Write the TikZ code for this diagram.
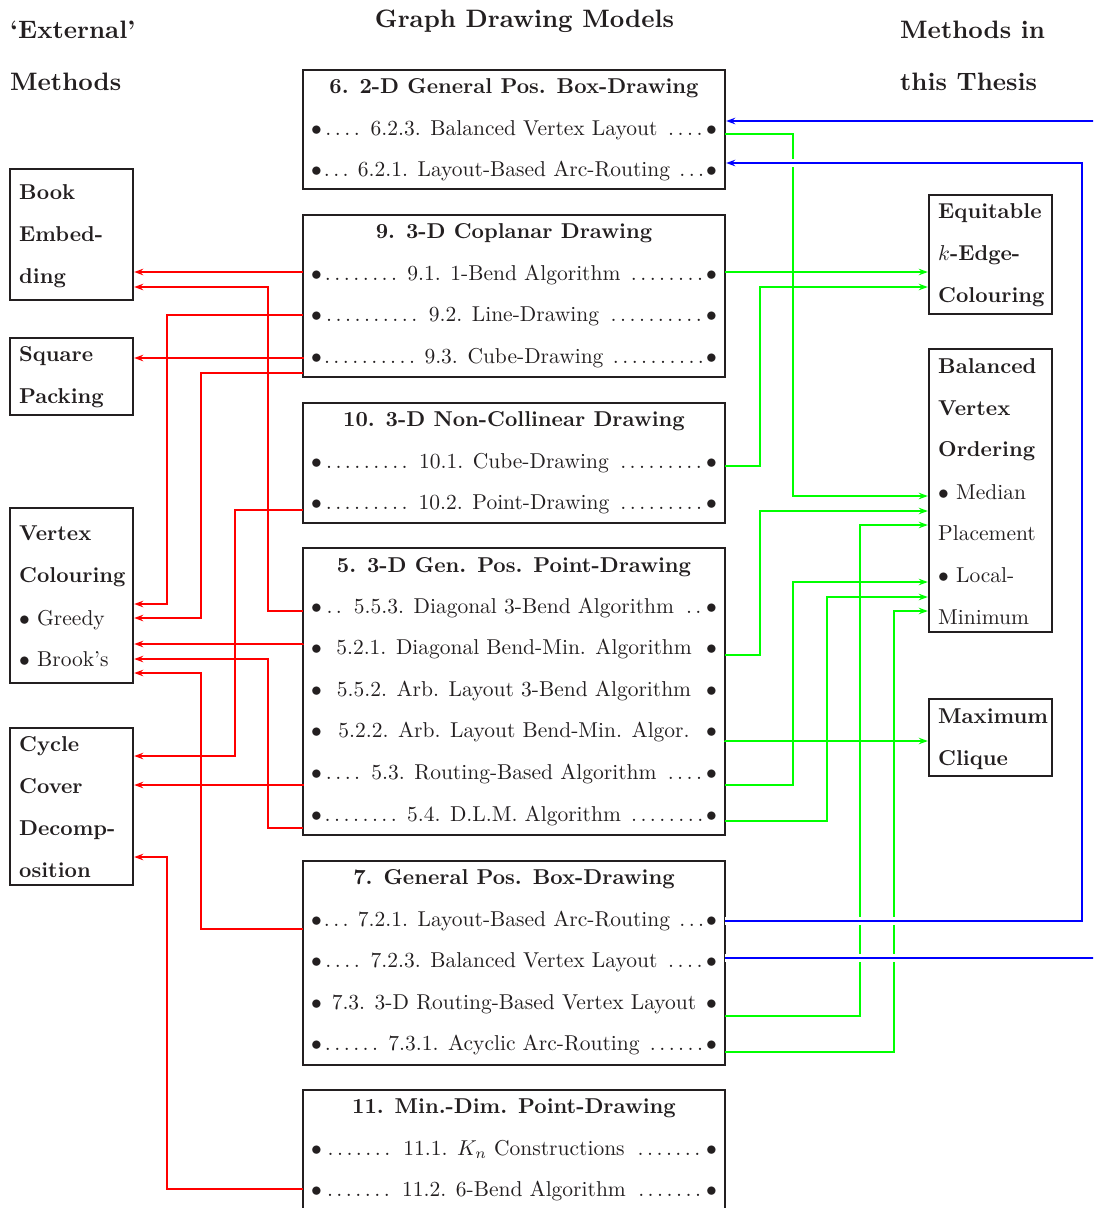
\documentclass[tikz,border=0pt]{standalone}
\usepackage{graphicx}
\usetikzlibrary{arrows.meta,calc}
\definecolor{ink}{RGB}{35,31,32}
\definecolor{cred}{RGB}{255,0,0}
\definecolor{cgreen}{RGB}{0,255,0}
\definecolor{cblue}{RGB}{0,0,255}
\newcommand{\sbx}[1]{\scalebox{2.15}{#1}}
\newcommand{\hbx}[1]{\scalebox{2.52}{#1}}
\newcommand{\rowtext}[1]{\sbx{\makebox[188.8pt]{$\bullet$\dotfill\ #1\ \dotfill$\bullet$}}}
\begin{document}
\begin{tikzpicture}[x=1pt,y=-1pt,
  every node/.style={text=ink},
  hdr/.style={anchor=base west, inner sep=0, font=\fontsize{10}{12}\selectfont\bfseries},
  ttl/.style={anchor=base, inner sep=0, font=\fontsize{10}{12}\selectfont\bfseries},
  btxt/.style={anchor=base west, inner sep=0, font=\fontsize{10}{12}\selectfont\bfseries},
  ntxt/.style={anchor=base west, inner sep=0, font=\fontsize{10}{12}\selectfont},
  rowt/.style={anchor=base, inner sep=0, font=\fontsize{10}{12}\selectfont},
  box/.style={draw=ink, line width=2.4pt, anchor=north west, inner sep=0, outer sep=0},
  conn/.style={line width=1.8pt, shorten >=1.2pt, -{Stealth[length=9pt,width=6.5pt,inset=3pt]}},
  rc/.style={conn, draw=cred},
  gc/.style={conn, draw=cgreen},
  bc/.style={conn, draw=cblue, preaction={draw=white, line width=8pt, -}}
]
\useasboundingbox (0,0) rectangle (1093,1208);
\clip (0,0) rectangle (1093,1208);

% headers
\node[hdr] (hext) at (10,38) {\hbx{‘External’}};
\node[hdr] (hmeth) at (10,90.7) {\hbx{Methods}};
\node[hdr, anchor=base] (hgdm) at (524.5,27) {\hbx{Graph Drawing Models}};
\node[hdr] (hmin) at (900,38) {\hbx{Methods in}};
\node[hdr] (hthis) at (900,90.7) {\hbx{this Thesis}};

% middle boxes
\node[box, minimum width=422pt, minimum height=119pt] (b6) at (303,70) {};
\node[ttl] (t6) at (514,93) {\sbx{6. 2-D General Pos. Box-Drawing}};
\node[rowt] (r623) at (514,135) {\rowtext{6.2.3. Balanced Vertex Layout}};
\node[rowt] (r621) at (514,176.6) {\rowtext{6.2.1. Layout-Based Arc-Routing}};

\node[box, minimum width=422pt, minimum height=162pt] (b9) at (303,215) {};
\node[ttl] (t9) at (514,238) {\sbx{9. 3-D Coplanar Drawing}};
\node[rowt] (r91) at (514,280) {\rowtext{9.1. 1-Bend Algorithm}};
\node[rowt] (r92) at (514,321.6) {\rowtext{9.2. Line-Drawing}};
\node[rowt] (r93) at (514,363.2) {\rowtext{9.3. Cube-Drawing}};

\node[box, minimum width=422pt, minimum height=120pt] (b10) at (303,403) {};
\node[ttl] (t10) at (514,426) {\sbx{10. 3-D Non-Collinear Drawing}};
\node[rowt] (r101) at (514,468) {\rowtext{10.1. Cube-Drawing}};
\node[rowt] (r102) at (514,509.6) {\rowtext{10.2. Point-Drawing}};

\node[box, minimum width=422pt, minimum height=287pt] (b5) at (303,548) {};
\node[ttl] (t5) at (514,572) {\sbx{5. 3-D Gen. Pos. Point-Drawing}};
\node[rowt] (r553) at (514,613) {\rowtext{5.5.3. Diagonal 3-Bend Algorithm}};
\node[rowt] (r521) at (514,654.6) {\rowtext{5.2.1. Diagonal Bend-Min. Algorithm}};
\node[rowt] (r552) at (514,696.2) {\rowtext{5.5.2. Arb. Layout 3-Bend Algorithm}};
\node[rowt] (r522) at (514,737.8) {\rowtext{5.2.2. Arb. Layout Bend-Min. Algor.}};
\node[rowt] (r53) at (514,779.4) {\rowtext{5.3. Routing-Based Algorithm}};
\node[rowt] (r54) at (514,821) {\rowtext{5.4. D.L.M. Algorithm}};

\node[box, minimum width=422pt, minimum height=204pt] (b7) at (303,861) {};
\node[ttl] (t7) at (514,884) {\sbx{7. General Pos. Box-Drawing}};
\node[rowt] (r721) at (514,926) {\rowtext{7.2.1. Layout-Based Arc-Routing}};
\node[rowt] (r723) at (514,967.6) {\rowtext{7.2.3. Balanced Vertex Layout}};
\node[rowt] (r73) at (514,1009.2) {\rowtext{7.3. 3-D Routing-Based Vertex Layout}};
\node[rowt] (r731) at (514,1050.8) {\rowtext{7.3.1. Acyclic Arc-Routing}};

\node[box, minimum width=422pt, minimum height=140pt] (b11) at (303,1090) {};
\node[ttl] (t11) at (514,1113) {\sbx{11. Min.-Dim. Point-Drawing}};
\node[rowt] (r111) at (514,1155) {\rowtext{11.1. $K_n$ Constructions}};
\node[rowt] (r112) at (514,1196.6) {\rowtext{11.2. 6-Bend Algorithm}};

% left boxes
\node[box, minimum width=123pt, minimum height=131pt] (book) at (10,169) {};
\node[btxt] (book1) at (19,199) {\sbx{Book}};
\node[btxt] (book2) at (19,241) {\sbx{Embed-}};
\node[btxt] (book3) at (19,283) {\sbx{ding}};

\node[box, minimum width=123pt, minimum height=77pt] (sq) at (10,338) {};
\node[btxt] (sq1) at (19,361.7) {\sbx{Square}};
\node[btxt] (sq2) at (19,403) {\sbx{Packing}};

\node[box, minimum width=123pt, minimum height=175pt] (vc) at (10,508) {};
\node[btxt] (vc1) at (19,540.7) {\sbx{Vertex}};
\node[btxt] (vc2) at (19,582.7) {\sbx{Colouring}};
\node[ntxt] (vc3) at (19,625) {\sbx{$\bullet$ Greedy}};
\node[ntxt] (vc4) at (19,666.7) {\sbx{$\bullet$ Brook’s}};

\node[box, minimum width=123pt, minimum height=157pt] (cc) at (10,728) {};
\node[btxt] (cc1) at (19,751.7) {\sbx{Cycle}};
\node[btxt] (cc2) at (19,793.3) {\sbx{Cover}};
\node[btxt] (cc3) at (19,835) {\sbx{Decomp-}};
\node[btxt] (cc4) at (19,877.3) {\sbx{osition}};

% right boxes
\node[box, minimum width=123pt, minimum height=119pt] (eq) at (929,195) {};
\node[btxt] (eq1) at (938,218) {\sbx{Equitable}};
\node[btxt] (eq2) at (938,260) {\sbx{$k$-Edge-}};
\node[btxt] (eq3) at (938,302.7) {\sbx{Colouring}};

\node[box, minimum width=123pt, minimum height=283pt] (bal) at (929,349) {};
\node[btxt] (bal1) at (938,373.3) {\sbx{Balanced}};
\node[btxt] (bal2) at (938,415) {\sbx{Vertex}};
\node[btxt] (bal3) at (938,456.7) {\sbx{Ordering}};
\node[ntxt] (bal4) at (938,499) {\sbx{$\bullet$ Median}};
\node[ntxt] (bal5) at (938,540) {\sbx{Placement}};
\node[ntxt] (bal6) at (938,582) {\sbx{$\bullet$ Local-}};
\node[ntxt] (bal7) at (938,624.3) {\sbx{Minimum}};

\node[box, minimum width=123pt, minimum height=77pt] (mc) at (929,699) {};
\node[btxt] (mc1) at (938,723) {\sbx{Maximum}};
\node[btxt] (mc2) at (938,765) {\sbx{Clique}};

% green connectors
\draw[gc] ($(b6.east|-r623.base)+(0,-1)$) -- ++(68,0) |- ($(bal.west)+(0,5.5)$);
\draw[gc] ($(b9.east|-r91.base)+(0,-8)$) |- ($(eq.west)+(0,17.5)$);
\draw[gc] ($(b10.east|-r101.base)+(0,-2)$) -- ++(35,0) |- ($(eq.west)+(0,32.5)$);
\draw[gc] (b5.east|-r521.base) -- ++(35,0) |- ($(bal.west)+(0,20.5)$);
\draw[gc] ($(b5.east|-r522.base)+(0,3)$) |- ($(mc.west)+(0,3.5)$);
\draw[gc] ($(b5.east|-r53.base)+(0,5.6)$) -- ++(68,0) |- ($(bal.west)+(0,91.5)$);
\draw[gc] (b5.east|-r54.base) -- ++(102,0) |- ($(bal.west)+(0,106.5)$);
\draw[gc] ($(b7.east|-r73.base)+(0,7)$) -- ++(135,0) |- ($(bal.west)+(0,34.5)$);
\draw[gc] ($(b7.east|-r731.base)+(0,1)$) -- ++(169,0) |- ($(bal.west)+(0,120.5)$);

% red connectors
\draw[rc] ($(b9.west|-r91.base)+(0,-8)$) |- ($(book.east)+(0,37.5)$);
\draw[rc] ($(b5.west|-r553.base)+(0,-2)$) -- ++(-35,0) |- ($(book.east)+(0,52.5)$);
\draw[rc] ($(b9.west|-r92.base)+(0,-7)$) -- ++(-136,0) |- ($(vc.east)+(0,8.5)$);
\draw[rc] ($(b9.west|-r93.base)+(0,-5)$) |- ($(sq.east)+(0,-18.5)$);
\draw[rc] ($(b9.west|-r93.base)+(0,10)$) -- ++(-102,0) |- ($(vc.east)+(0,22.5)$);
\draw[rc] (b10.west|-r102.base) -- ++(-68,0) |- ($(cc.east)+(0,-50.5)$);
\draw[rc] ($(b5.west|-r521.base)+(0,-11)$) |- ($(vc.east)+(0,48.5)$);
\draw[rc] ($(b5.west|-r54.base)+(0,7)$) -- ++(-35,0) |- ($(vc.east)+(0,63.5)$);
\draw[rc] ($(b7.west|-r721.base)+(0,3)$) -- ++(-102,0) |- ($(vc.east)+(0,77.5)$);
\draw[rc] ($(b5.west|-r53.base)+(0,6)$) |- ($(cc.east)+(0,-21.5)$);
\draw[rc] ($(b11.west|-r112.base)+(0,-8)$) -- ++(-136,0) |- ($(cc.east)+(0,50.5)$);

% blue connectors
\draw[bc] ($(b7.east|-r721.base)+(0,-5)$) -- ++(357,0) |- ($(b6.east)+(0,33.5)$);
\draw[bc] ($(b7.east|-r723.base)+(0,-10)$) -- ++(380,0) |- ($(b6.east)+(0,-8.5)$);
\end{tikzpicture}
\end{document}
